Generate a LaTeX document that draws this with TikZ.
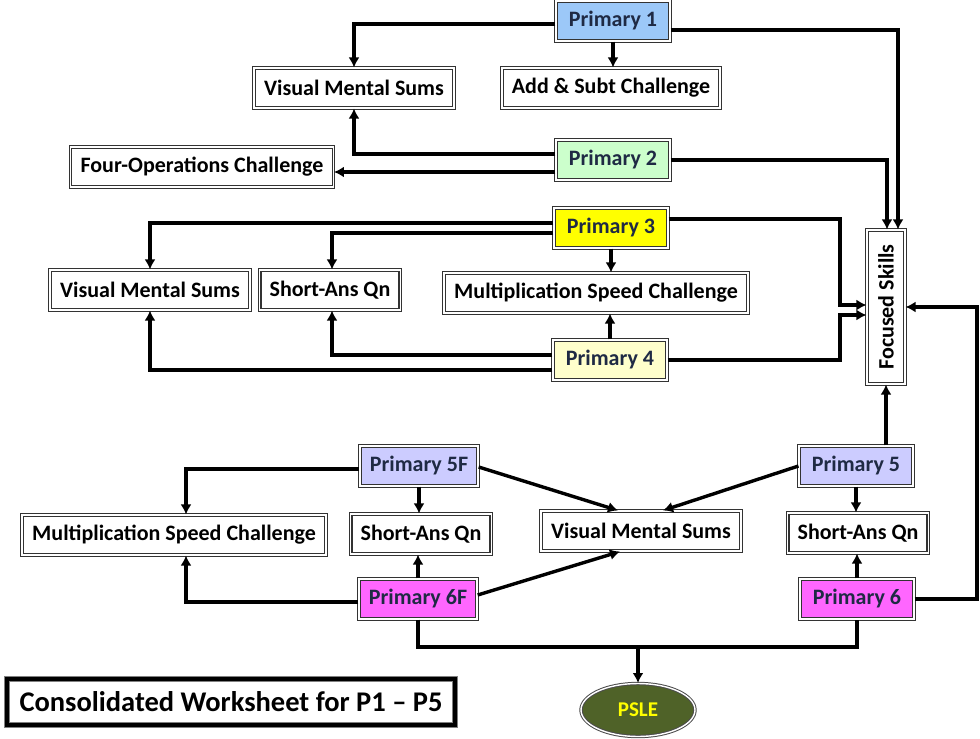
\documentclass[tikz,border=0pt]{standalone}
\usepackage{fontspec}
\setmainfont{Carlito}
\usetikzlibrary{arrows.meta,shapes.geometric}
\definecolor{pone}{HTML}{9CC8F8}
\definecolor{ptwo}{HTML}{CCFFCC}
\definecolor{pthree}{HTML}{FFFF00}
\definecolor{pfour}{HTML}{FFFFCC}
\definecolor{pfive}{HTML}{CCCCFF}
\definecolor{psix}{HTML}{FF66FF}
\definecolor{olive}{HTML}{4F6228}
\definecolor{navy}{HTML}{1F2A44}
\tikzset{
    box/.style={draw=black!80, double=white, double distance=1.6pt, line width=1.1pt,
        fill=white, minimum height=40pt, inner xsep=10pt,
        font=\fontsize{22pt}{26pt}\selectfont\bfseries},
    pbox/.style={box, minimum width=114pt, text=navy},
    arr/.style={line width=3.4pt, -{Latex[length=10pt,width=11pt]}},
    ln/.style={line width=3.4pt}
}
\begin{document}
\begin{tikzpicture}[x=1pt,y=-1pt]
                \useasboundingbox (0,0) rectangle (980,739);
                \node[pbox, fill=pone] (p1) at (613,21) {Primary 1};
                \node[pbox, fill=ptwo] (p2) at (613,160) {Primary 2};
                \node[pbox, fill=pthree] (p3) at (611,228) {Primary 3};
                \node[pbox, fill=pfour] (p4) at (610,360) {Primary 4};
                \node[pbox, fill=pfive] (p5f) at (419,466) {Primary 5F};
                \node[pbox, fill=psix] (p6f) at (418,599) {Primary 6F};
                \node[pbox, fill=pfive] (p5) at (856,466) {Primary 5};
                \node[pbox, fill=psix] (p6) at (857,599) {Primary 6};
                \node[box] (vms1) at (354,88) {Visual Mental Sums};
                \node[box] (addsub) at (611,88) {Add \& Subt Challenge};
                \node[box] (fourop) at (202,167) {Four-Operations Challenge};
                \node[box] (vms2) at (150,290) {Visual Mental Sums};
                \node[box] (sa2) at (330,290) {Short-Ans Qn};
                \node[box] (ms2) at (596,293) {Multiplication Speed Challenge};
                \node[box, minimum width=38pt, minimum height=154pt, inner sep=0pt] (fs) at (886,307) {};
                \node[rotate=90, font=\fontsize{22pt}{26pt}\selectfont\bfseries] (fstext) at (fs.center) {Focused Skills};
                \node[box] (ms3) at (174,535) {Multiplication Speed Challenge};
                \node[box] (sa3) at (421,534) {Short-Ans Qn};
                \node[box] (vms3) at (641,531) {Visual Mental Sums};
                \node[box] (sa4) at (858,533) {Short-Ans Qn};
                \node[ellipse, draw=black!70, double=white, double distance=1.4pt, line width=1pt,
                    fill=olive, text=pthree, minimum width=114pt, minimum height=53pt,
                    font=\fontsize{21pt}{25pt}\selectfont\bfseries] (psle) at (638,710) {PSLE};
                \node[draw=black!50, double=black, double distance=3.6pt, line width=0.9pt,
                    minimum width=448pt, minimum height=46pt,
                    font=\fontsize{28.5pt}{32pt}\selectfont\bfseries] (title) at (231,702) {Consolidated Worksheet for P1 -- P5};
                \coordinate (p1w) at ([yshift=-3pt]p1.west);
                \coordinate (p1e) at ([yshift=-9pt]p1.east);
                \coordinate (p2wa) at ([yshift=6pt]p2.west);
                \coordinate (p2wb) at ([yshift=-12pt]p2.west);
                \coordinate (p3wa) at ([yshift=5pt]p3.west);
                \coordinate (p3wb) at ([yshift=-5pt]p3.west);
                \coordinate (p3e) at ([yshift=9pt]p3.east);
                \coordinate (p4wa) at ([yshift=5pt]p4.west);
                \coordinate (p4wb) at ([yshift=-10pt]p4.west);
                \coordinate (fswa) at ([yshift=2pt]fs.west);
                \coordinate (fswb) at ([yshift=-8pt]fs.west);
                \coordinate (join) at (638,647);
                \draw[arr] (p1w) -| (vms1.north);
                \draw[arr] (p1.south) -- (p1.south |- addsub.north);
                \draw[arr] (p1e) -| ([xshift=12pt]fs.north);
                \draw[arr] (p2wa) -| (vms1.south);
                \draw[arr] (p2wb) -- (p2wb -| fourop.east);
                \draw[arr] (p2.east) -| ([xshift=1pt]fs.north);
                \draw[arr] (p3wa) -| (vms2.north);
                \draw[arr] (p3wb) -| ([xshift=2pt]sa2.north);
                \draw[arr] (p3.south) -- (p3.south |- ms2.north);
                \draw[arr] (p3e) -| (840,305) -- (fswa);
                \draw[arr] (p4.east) -| (840,315) -- (fswb);
                \draw[arr] (p4.north) -- (p4.north |- ms2.south);
                \draw[arr] (p4wa) -| ([xshift=2pt]sa2.south);
                \draw[arr] (p4wb) -| (vms2.south);
                \draw[arr] ([xshift=30pt]p5.north) -- (fs.south);
                \draw[arr] (p6.east) -| (977,307) -- (fs.east);
                \draw[arr] (p5.south) -- (p5.south |- sa4.north);
                \draw[arr] (p6.north) -- (p6.north |- sa4.south);
                \draw[arr] (p5.west) -- ([xshift=22pt]vms3.north);
                \draw[arr] ([yshift=-1pt]p5f.east) -- ([xshift=-23pt]vms3.north);
                \draw[arr] ([yshift=4pt]p6f.east) -- ([xshift=-21pt]vms3.south);
                \draw[arr] ([yshift=-3pt]p5f.west) -| ([xshift=12pt]ms3.north);
                \draw[arr] ([yshift=-3pt]p6f.west) -| ([xshift=12pt]ms3.south);
                \draw[arr] (p5f.south) -- (p5f.south |- sa3.north);
                \draw[arr] (p6f.north) -- (p6f.north |- sa3.south);
                \draw[ln] (p6f.south) |- (join) -| (p6.south);
                \draw[arr] (join) -- (psle.north);
            \end{tikzpicture}
\end{document}
